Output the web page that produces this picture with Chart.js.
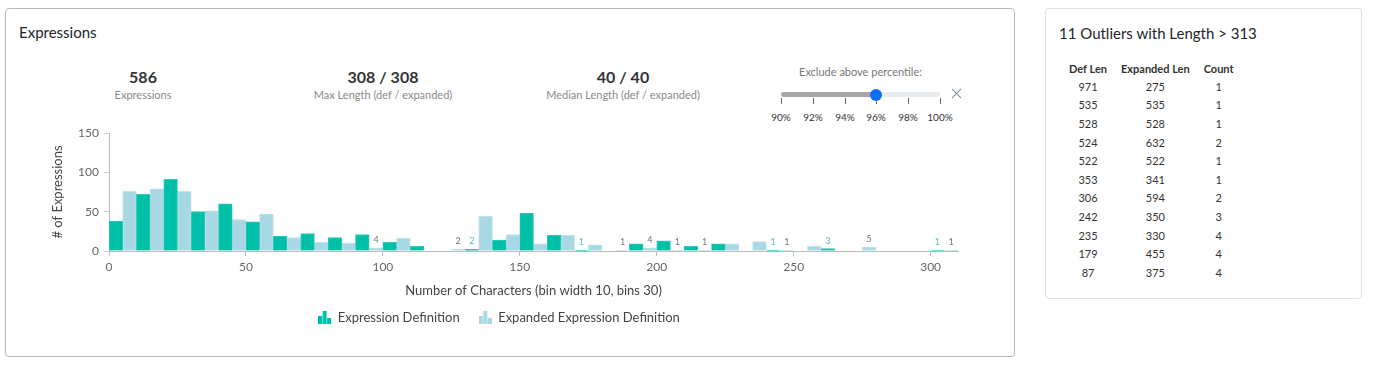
<!DOCTYPE html>
<html>
<head>
<meta charset="utf-8">
<script src="https://cdn.jsdelivr.net/npm/chart.js@4.4.1/dist/chart.umd.min.js"></script>
<style>
  html, body { margin: 0; padding: 0; background: #fff; }
  body { width: 1373px; height: 368px; position: relative; overflow: hidden; font-family: 'Lato', 'Open Sans', sans-serif; color: #212529; }
  .card { position: absolute; box-sizing: border-box; border-radius: 4px; background: #fff; }
  #card1 { left: 5px; top: 8px; width: 1010px; height: 349px; border: 1px solid #b4b9be; }
  #card2 { left: 1045px; top: 8px; width: 317px; height: 291px; border: 1px solid #dcdfe3; }
  .abs { position: absolute; white-space: nowrap; }
  .title { font-size: 15px; line-height: 18px; color: #212529; }
  .stat { position: absolute; width: 200px; text-align: center; }
  .stat .num { font-size: 16px; font-weight: 700; color: #333; line-height: 20px; }
  .stat .lbl { font-size: 11px; color: #8a8a8a; line-height: 14px; margin-top: 1px; }
  #chartWrap { position: absolute; left: 20px; top: 120px; width: 962px; height: 215px; }
  table { position: absolute; border-collapse: collapse; font-size: 11px; }
  th { font-weight: 700; color: #333; padding: 0 7px; height: 18px; text-align: center; }
  td { color: #333; padding: 0 7px; height: 18.6px; text-align: center; }
</style>
</head>
<body>
<div class="card" id="card1"></div>
<div class="card" id="card2"></div>

<div class="abs title" style="left:19px; top:23px;">Expressions</div>

<div id="stats"></div>

<div id="slider"></div>

<div id="chartWrap"><canvas id="c" width="962" height="215"></canvas></div>

<div class="abs title" id="outTitle" style="left:1059px; top:24px;"></div>
<table id="outTable" style="left:1062px; top:59px;"></table>

<script>
// ---------- data ----------
const binStarts = [0,10,20,30,40,50,60,70,80,90,100,110,120,130,140,150,160,170,180,190,200,210,220,230,240,250,260,270,280,290,300];
const defCounts = [38,72,91,50,60,37,19,22,17,21,11,6,0,2,14,48,20,1,0,9,13,6,9,0,1,0,3,0,0,0,1];
const expCounts = [76,79,76,51,40,47,17,11,10,4,16,0,2,44,21,9,20,8,1,4,1,1,9,12,1,6,0,5,0,0,1];
const seriesNames = ['Expression Definition', 'Expanded Expression Definition'];
const xTicks = [0,50,100,150,200,250,300];
const yTicks = [0,50,100,150];

const statValues = ['586', '308 / 308', '40 / 40'];
const statLabels = ['Expressions', 'Max Length (def / expanded)', 'Median Length (def / expanded)'];

const sliderLabel = 'Exclude above percentile:';
const sliderTicks = ['90%','92%','94%','96%','98%','100%'];
const sliderValueIndex = 3;

const outlierTitle = '11 Outliers with Length > 313';
const outlierHeaders = ['Def Len', 'Expanded Len', 'Count'];
const outDefLen = [971,535,528,524,522,353,306,242,235,179,87];
const outExpLen = [275,535,528,632,522,341,594,350,330,455,375];
const outCount  = [1,1,1,2,1,1,2,3,4,4,4];

// ---------- stats ----------
const statCenters = [143, 383, 623];
const statsEl = document.getElementById('stats');
statValues.forEach((v, i) => {
  const d = document.createElement('div');
  d.className = 'stat';
  d.style.left = (statCenters[i] - 100) + 'px';
  d.style.top = '67px';
  d.innerHTML = '<div class="num"></div><div class="lbl"></div>';
  d.querySelector('.num').textContent = v;
  d.querySelector('.lbl').textContent = statLabels[i];
  statsEl.appendChild(d);
});

// ---------- slider ----------
(function(){
  const s = document.getElementById('slider');
  const x0 = 781, x1 = 940;
  const step = (x1 - x0) / (sliderTicks.length - 1);
  let html = '';
  html += `<div class="abs" style="left:${(x0+x1)/2-100}px;width:200px;text-align:center;top:65px;font-size:11px;color:#777;line-height:14px;">${sliderLabel}</div>`;
  html += `<div class="abs" style="left:${x0}px;top:92px;width:${x1-x0}px;height:5px;background:#e9ecef;border-radius:3px;"></div>`;
  const tx = x0 + step * sliderValueIndex;
  html += `<div class="abs" style="left:${x0}px;top:92px;width:${tx-x0}px;height:5px;background:#a6a6a6;border-radius:3px 0 0 3px;"></div>`;
  sliderTicks.forEach((t, i) => {
    const x = Math.round(x0 + step * i);
    html += `<div class="abs" style="left:${x}px;top:98px;width:1px;height:6px;background:#666;"></div>`;
    html += `<div class="abs" style="left:${x-30}px;width:60px;text-align:center;top:111px;font-size:10px;color:#333;line-height:13px;">${t}</div>`;
  });
  html += `<div class="abs" style="left:${tx-6}px;top:88.5px;width:12px;height:12px;border-radius:50%;background:#0d6efd;"></div>`;
  // close "x" drawn as two thin strokes
  html += `<div class="abs" style="left:950px;top:93px;width:13px;height:1px;background:#7d8ea6;transform:rotate(45deg);"></div>`;
  html += `<div class="abs" style="left:950px;top:93px;width:13px;height:1px;background:#7d8ea6;transform:rotate(-45deg);"></div>`;
  s.innerHTML = html;
})();

// ---------- outliers table ----------
document.getElementById('outTitle').textContent = outlierTitle;
(function(){
  const t = document.getElementById('outTable');
  let h = '<tr>' + outlierHeaders.map(x => `<th>${x}</th>`).join('') + '</tr>';
  outDefLen.forEach((d, i) => {
    h += `<tr><td>${d}</td><td>${outExpLen[i]}</td><td>${outCount[i]}</td></tr>`;
  });
  t.innerHTML = h;
})();

// ---------- chart ----------
const darkColor = '#00bfa8';
const lightColor = '#a8d8e3';

function makeIcon(color) {
  const c = document.createElement('canvas');
  c.width = 13; c.height = 13;
  const g = c.getContext('2d');
  g.fillStyle = color;
  g.fillRect(0, 5, 4, 8);
  g.fillRect(4.5, 0, 4, 13);
  g.fillRect(9, 7, 4, 6);
  return c;
}
const icons = [makeIcon(darkColor), makeIcon(lightColor)];

const smallLabels = {
  id: 'smallLabels',
  afterDatasetsDraw(chart) {
    const ctx = chart.ctx;
    ctx.save();
    ctx.font = '9px Lato, sans-serif';
    ctx.textAlign = 'center';
    ctx.textBaseline = 'middle';
    const colors = ['#52c3b0', '#777777'];
    chart.data.datasets.forEach((ds, di) => {
      const meta = chart.getDatasetMeta(di);
      meta.data.forEach((el, i) => {
        const v = ds.data[i].y;
        if (v > 0 && v <= 5) {
          ctx.fillStyle = colors[di];
          ctx.fillText(String(v), el.x, el.y - 8);
        }
      });
    });
    ctx.restore();
  }
};

const chart = new Chart(document.getElementById('c'), {
  type: 'bar',
  data: {
    datasets: [
      {
        label: seriesNames[0],
        data: binStarts.map((b, i) => ({ x: b + 2.5, y: defCounts[i] })),
        backgroundColor: darkColor,
        borderColor: '#2fcab6',
        borderWidth: 1,
        grouped: false,
        barPercentage: 1,
        categoryPercentage: 1,
        pointStyle: icons[0]
      },
      {
        label: seriesNames[1],
        data: binStarts.map((b, i) => ({ x: b + 7.5, y: expCounts[i] })),
        backgroundColor: lightColor,
        borderColor: '#bfe3ea',
        borderWidth: 1,
        grouped: false,
        barPercentage: 1,
        categoryPercentage: 1,
        pointStyle: icons[1]
      }
    ]
  },
  options: {
    responsive: false,
    animation: false,
    devicePixelRatio: 1,
    layout: { padding: { left: 20, right: 24, top: 13, bottom: 1 } },
    plugins: {
      tooltip: { enabled: false },
      legend: {
        position: 'bottom',
        labels: {
          usePointStyle: true,
          padding: 19,
          color: '#444',
          font: { family: 'Lato', size: 13 }
        }
      }
    },
    scales: {
      x: {
        type: 'linear',
        offset: false,
        min: 0,
        max: 310,
        afterBuildTicks(scale) { scale.ticks = xTicks.map(v => ({ value: v })); },
        ticks: { color: '#666', font: { family: 'Lato', size: 12 }, padding: 4, maxRotation: 0 },
        grid: { display: true, offset: false, drawOnChartArea: false, tickLength: 5, color: '#bbb' },
        border: { color: '#bbb' },
        title: { display: true, text: 'Number of Characters (bin width 10, bins 30)', color: '#444', font: { family: 'Lato', size: 13 }, padding: { top: 5, bottom: -7 } }
      },
      y: {
        min: 0,
        max: 150,
        afterBuildTicks(scale) { scale.ticks = yTicks.map(v => ({ value: v })); },
        afterFit(scale) { scale.width = 69; },
        ticks: { color: '#666', font: { family: 'Lato', size: 12 }, padding: 5 },
        grid: { display: true, drawOnChartArea: false, tickLength: 5, color: '#ccc' },
        border: { color: '#bbb' },
        title: { display: true, text: '# of Expressions', color: '#444', font: { family: 'Lato', size: 13 }, padding: { top: 10, bottom: 0 } }
      }
    }
  },
  plugins: [smallLabels]
});
</script>
</body>
</html>
